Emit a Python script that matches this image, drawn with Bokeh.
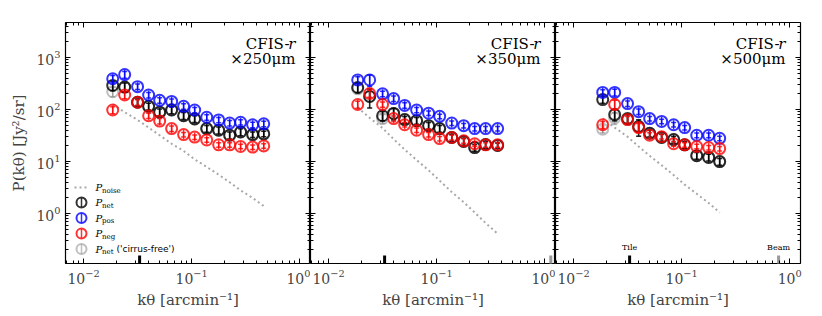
import numpy as np
from bokeh.plotting import figure
from bokeh.models import (Range1d, LogAxis, LogTicker, Label, ColumnDataSource,
                          CustomJSTickFormatter)
from bokeh.layouts import row
from bokeh.embed import file_html
from bokeh.resources import INLINE

# ---------------- data ----------------
k_bins = [0.0186, 0.0240, 0.0316, 0.0400, 0.0506, 0.0653, 0.0843,
          0.1067, 0.138, 0.178, 0.225, 0.284, 0.367, 0.465]

bands = ["×250μm", "×350μm", "×500μm"]

net_250 = [290, 270, 138, 115, 89, 98, 76, 66, 43, 40, 32, 37, 33, 34]
pos_250 = [390, 470, 275, 190, 150, 143, 115, 98, 71, 63, 55, 57, 51, 53]
neg_250 = [98, 190, 138, 76, 60, 43, 33, 29.5, 26, 21, 21, 19.5, 19, 20]
free_250 = [220, 270, 138, 115, 89, 98, 76, 66, 43, 40, 32, 37, 33, 34]
noise_250 = [126, 89, 63, 45, 32, 22, 16, 11, 7.9, 5.6, 4.0, 2.8, 2.0, 1.4]
net_err_250 = [0.2, 0.2, 0.15, 0.15, 0.15, 0.15, 0.15, 0.15, 0.15, 0.15, 0.15, 0.15, 0.12, 0.12]
pos_err_250 = [0.15, 0.15, 0.12, 0.12, 0.12, 0.12, 0.12, 0.12, 0.12, 0.12, 0.12, 0.12, 0.12, 0.12]
neg_err_250 = [0.15, 0.15, 0.12, 0.12, 0.12, 0.12, 0.1, 0.1, 0.1, 0.1, 0.1, 0.1, 0.1, 0.1]

net_350 = [265, 178, 76, 84, 64, 61, 49, 43, 29, 24.3, 18.6, 21.3, 20.4]
pos_350 = [370, 370, 200, 162, 120, 98, 85, 74, 55, 49, 43, 43, 43]
neg_350 = [125, 203, 125, 67, 51, 40, 33, 27.6, 29, 25, 22, 21, 21]
free_350 = [250, 178, 67, 84, 64, 61, 49, 43, 29, 24.3, 18.6, 21.3, 20.4]
noise_350 = [110, 69, 44, 27, 17, 10.7, 6.8, 4.3, 2.6, 1.66, 1.05, 0.66, 0.41]
net_err_350 = [0.2, 0.4, 0.2, 0.25, 0.15, 0.15, 0.15, 0.15, 0.15, 0.15, 0.15, 0.15, 0.12]
pos_err_350 = [0.15, 0.25, 0.12, 0.12, 0.12, 0.12, 0.1, 0.1, 0.1, 0.1, 0.1, 0.1, 0.1]
neg_err_350 = [0.15, 0.15, 0.12, 0.12, 0.1, 0.1, 0.1, 0.1, 0.1, 0.1, 0.1, 0.1, 0.1]

net_500 = [155, 80, 67, 47, 35, 29, 26.5, 21, 13, 12, 10]
pos_500 = [213, 213, 130, 91, 67, 59, 51, 45, 32, 32, 28]
neg_500 = [51, 125, 64, 45, 32, 30, 22, 21, 19.5, 18.6, 17.8]
free_500 = [42, 69, 64, 47, 35, 29, 26.5, 21, 13, 12, 10]
noise_500 = [68, 45, 30, 19.5, 12.9, 8.5, 5.5, 3.6, 2.4, 1.6, 1.05]
net_err_500 = [0.15, 0.25, 0.2, 0.35, 0.15, 0.15, 0.15, 0.15, 0.15, 0.15, 0.15]
pos_err_500 = [0.12, 0.15, 0.12, 0.12, 0.1, 0.1, 0.1, 0.1, 0.1, 0.1, 0.1]
neg_err_500 = [0.15, 0.2, 0.15, 0.2, 0.12, 0.1, 0.1, 0.1, 0.1, 0.1, 0.1]

tile_k = 0.033
beam_k = [None, 1.14, 0.79]

legend_subs = ["noise", "net", "pos", "neg", "net"]

# ---------------- styling ----------------
X_RANGE = (0.0068, 1.26)
Y_RANGE = (0.11, 4700)
FRAME_W, FRAME_H = 245, 241
TOP, BOTTOM, LEFT0, RIGHT2 = 22, 48, 65, 21
SERIF = "DejaVu Serif"
SANS = "DejaVu Sans"
C_NET, C_POS, C_NEG, C_FREE = "#000000", "#0000ff", "#ff0000", "#808080"
NOISE_COLOR = "#a8a8a8"
LEG_ROWS = [76, 61, 45.5, 30, 14.5]     # legend row centres, px above frame bottom

LX0, LX1 = np.log10(X_RANGE)
LY0, LY1 = np.log10(Y_RANGE)


def fx(sx):
    """frame pixel offset -> data x (for legend samples)"""
    return 10 ** (LX0 + (LX1 - LX0) * sx / FRAME_W)


def fy(sy):
    return 10 ** (LY0 + (LY1 - LY0) * sy / FRAME_H)


def style_axis(ax, labels=True):
    ax.major_tick_in = 5
    ax.major_tick_out = 0
    ax.minor_tick_in = 3
    ax.minor_tick_out = 0
    ax.axis_line_color = None
    ax.major_tick_line_color = "black"
    ax.minor_tick_line_color = "black"
    ax.ticker = LogTicker(num_minor_ticks=10)
    if labels:
        ax.major_label_text_font = SERIF
        ax.major_label_text_font_size = "14px"
        ax.major_label_standoff = 5
    else:
        ax.formatter = CustomJSTickFormatter(code="return ''")
        ax.major_label_text_font_size = "1px"
        ax.major_label_standoff = 0


def draw_marker(p, src, color, alpha, size=11, bar=9):
    p.scatter("k", "v", source=src, marker="dash", angle=np.pi / 2,
              size=bar, line_color=color, line_alpha=alpha, line_width=1.5)
    p.scatter("k", "v", source=src, marker="circle", size=size,
              fill_color=None, line_color=color, line_alpha=alpha, line_width=2)


def add_series(p, k, vals, errs, color, alpha):
    lo = [v * (1 - e) for v, e in zip(vals, errs)]
    hi = [v * (1 + e) for v, e in zip(vals, errs)]
    src = ColumnDataSource(dict(k=k[:len(vals)], v=vals, lo=lo, hi=hi))
    p.segment("k", "lo", "k", "hi", source=src, line_color=color,
              line_alpha=alpha, line_width=1.5)
    for col in ("lo", "hi"):
        p.scatter("k", col, source=src, marker="dash", size=5,
                  line_color=color, line_alpha=alpha, line_width=1.5)
    draw_marker(p, src, color, alpha)


def text_label(p, x, y, text, size, align="left", baseline="middle",
               style="normal", font=SERIF, xu="screen", yu="screen",
               color="black"):
    p.add_layout(Label(x=x, y=y, x_units=xu, y_units=yu, text=text,
                       text_font=font, text_font_size=f"{size}px",
                       text_font_style=style, text_align=align,
                       text_baseline=baseline, text_color=color))


panel_data = [
    (net_250, pos_250, neg_250, free_250, noise_250, net_err_250, pos_err_250, neg_err_250),
    (net_350, pos_350, neg_350, free_350, noise_350, net_err_350, pos_err_350, neg_err_350),
    (net_500, pos_500, neg_500, free_500, noise_500, net_err_500, pos_err_500, neg_err_500),
]

figs = []
for i, (net, pos, neg, free, noise, e_net, e_pos, e_neg) in enumerate(panel_data):
    left = LEFT0 if i == 0 else 0
    right = RIGHT2 if i == 2 else 0
    p = figure(width=FRAME_W + left + right, height=FRAME_H + TOP + BOTTOM,
               x_axis_type="log", y_axis_type="log",
               x_range=Range1d(*X_RANGE), y_range=Range1d(*Y_RANGE),
               output_backend="svg", toolbar_location=None,
               min_border_left=left, min_border_right=right,
               min_border_top=TOP, min_border_bottom=BOTTOM)
    p.grid.visible = False
    p.outline_line_color = "black"
    p.outline_line_width = 1.2
    p.background_fill_color = "white"
    p.border_fill_color = "white"

    style_axis(p.xaxis[0], labels=True)
    p.xaxis[0].axis_label = "kθ [arcmin⁻¹]"
    p.xaxis[0].axis_label_text_font = SERIF
    p.xaxis[0].axis_label_text_font_size = "15px"
    p.xaxis[0].axis_label_text_font_style = "normal"
    p.xaxis[0].axis_label_standoff = 4
    style_axis(p.yaxis[0], labels=(i == 0))
    if i == 0:
        p.yaxis[0].axis_label = "P(kθ) [Jy²/sr]"
        p.yaxis[0].axis_label_text_font = SERIF
        p.yaxis[0].axis_label_text_font_size = "15px"
        p.yaxis[0].axis_label_text_font_style = "normal"
        p.yaxis[0].axis_label_standoff = 5
    top_ax = LogAxis()
    style_axis(top_ax, labels=False)
    p.add_layout(top_ax, "above")
    right_ax = LogAxis()
    style_axis(right_ax, labels=False)
    p.add_layout(right_ax, "right")

    n = len(net)
    kk = k_bins[:n]
    p.line(kk, noise, line_color=NOISE_COLOR, line_width=2, line_dash="2 3")
    add_series(p, kk, free, e_net, C_FREE, 0.5)
    add_series(p, kk, net, e_net, C_NET, 0.8)
    add_series(p, kk, pos, e_pos, C_POS, 0.8)
    add_series(p, kk, neg, e_neg, C_NEG, 0.8)

    # Tile / Beam scale markers
    p.rect(x=[tile_k], y=[Y_RANGE[0]], width=3, height=16, width_units="screen",
           height_units="screen", fill_color="black", line_color=None)
    if beam_k[i] is not None:
        p.rect(x=[beam_k[i]], y=[Y_RANGE[0]], width=3, height=16,
               width_units="screen", height_units="screen",
               fill_color="#999999", line_color=None)
    if i == 2:
        text_label(p, tile_k, 12, "Tile", 8, align="center", baseline="bottom", xu="data")
        text_label(p, beam_k[i], 12, "Beam", 8, align="center", baseline="bottom", xu="data")

    # band annotation
    text_label(p, FRAME_W - 15, 220, "r", 15, align="right", style="italic")
    text_label(p, FRAME_W - 21, 220, "CFIS-", 15, align="right")
    text_label(p, FRAME_W - 15, 205, bands[i], 15, align="right")

    if i == 0:
        # hand-built legend (positions derived from the frame geometry)
        p.line([fx(9), fx(22)], [fy(LEG_ROWS[0])] * 2, line_color=NOISE_COLOR,
               line_width=2, line_dash="2 3")
        for ry, (col, al) in zip(LEG_ROWS[1:], [(C_NET, 0.8), (C_POS, 0.8),
                                                (C_NEG, 0.8), (C_FREE, 0.5)]):
            src = ColumnDataSource(dict(k=[fx(16)], v=[fy(ry)]))
            draw_marker(p, src, col, al, size=10, bar=9)
        for ry, sub in zip(LEG_ROWS, legend_subs):
            text_label(p, 30, ry, "P", 10, style="italic")
            text_label(p, 36.5, ry - 3, sub, 7)
        text_label(p, 51, LEG_ROWS[4], "('cirrus-free')", 9, font=SANS)

    figs.append(p)

layout = row(*figs, spacing=0)
open("out.html", "w").write(file_html(layout, INLINE))
